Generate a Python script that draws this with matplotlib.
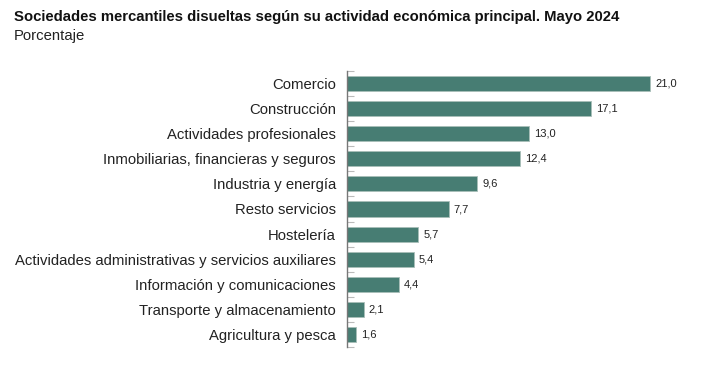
import matplotlib.pyplot as plt
import numpy as np

plt.rcParams['font.family'] = ['Liberation Sans', 'DejaVu Sans']

categorias = ['Comercio', 'Construcción', 'Actividades profesionales',
              'Inmobiliarias, financieras y seguros', 'Industria y energía',
              'Resto servicios', 'Hostelería',
              'Actividades administrativas y servicios auxiliares',
              'Información y comunicaciones', 'Transporte y almacenamiento',
              'Agricultura y pesca']
valores = [21.0, 17.1, 13.0, 12.4, 9.6, 7.7, 5.7, 5.4, 4.4, 2.1, 1.6]

W, H = 707, 367
fig = plt.figure(figsize=(W / 100, H / 100), dpi=100)
ax = fig.add_axes([347 / W, 20 / H, 347 / W, 276 / H])

y = np.arange(len(categorias))
ax.barh(y, valores, height=0.6, color='#477d73', edgecolor='#a9bfb9', linewidth=0.6)
for yi, v in zip(y, valores):
    ax.annotate(f'{v:.1f}'.replace('.', ','), (v, yi), xytext=(3.5, 0),
                textcoords='offset points', va='center', ha='left',
                fontsize=8, color='#222222')

# el eje empieza en 1, como en el original
ax.set_xlim(1, 23.87)
ax.set_ylim(len(categorias) - 0.5, -0.5)
ax.set_yticks(y)
ax.set_yticklabels(categorias, fontsize=10.7, color='#222222')
ax.tick_params(axis='y', which='major', length=0, pad=8)
ax.set_yticks(np.arange(-0.5, len(categorias)), minor=True)
ax.tick_params(axis='y', which='minor', direction='in', length=5, width=0.8, color='#bbbbbb')
ax.set_xticks([])
for s in ['top', 'right', 'bottom']:
    ax.spines[s].set_visible(False)
ax.spines['left'].set_color('#777777')
ax.spines['left'].set_linewidth(1)

fig.text(14 / W, 1 - 17 / H, 'Sociedades mercantiles disueltas según su actividad económica principal. Mayo 2024',
         fontsize=10.7, fontweight='bold', va='center', ha='left', color='#111111')
fig.text(14 / W, 1 - 36 / H, 'Porcentaje', fontsize=10.7, va='center', ha='left', color='#222222')

fig.savefig('out.png', dpi=100)
